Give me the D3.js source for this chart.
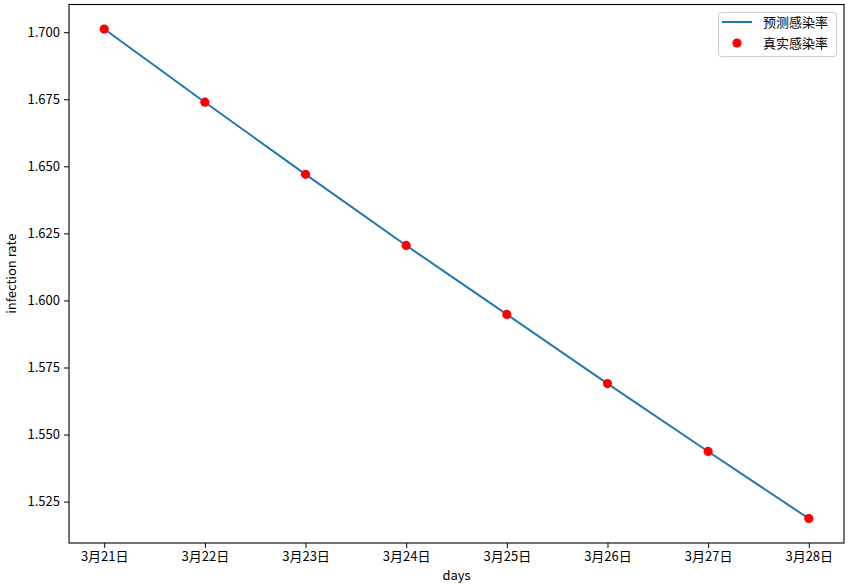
<!DOCTYPE html>
<html><head><meta charset="utf-8">
<script src="https://cdn.jsdelivr.net/npm/d3@7"></script>
<style>body{margin:0;background:#fff;} svg{display:block;font-family:"Noto Sans CJK SC","DejaVu Sans",sans-serif;}</style>
</head><body>
<svg id="c" width="848" height="584"></svg>
<script>
const categories = ["3月21日","3月22日","3月23日","3月24日","3月25日","3月26日","3月27日","3月28日"];
const predicted = [1.7012,1.6739,1.6470,1.6205,1.5948,1.5690,1.5437,1.5187];
const actual = [1.7012,1.6739,1.6470,1.6205,1.5948,1.5690,1.5437,1.5187];
const yTicks = [1.525,1.550,1.575,1.600,1.625,1.650,1.675,1.700];
const legendLabels = ["预测感染率","真实感染率"];

const svg = d3.select("#c");
const L=69, R=844, T=4.5, B=543;
const x = d3.scaleLinear().domain([-0.35, 7.35]).range([L,R]);
const ymin=d3.min(predicted.concat(actual)), ymax=d3.max(predicted.concat(actual));
const pad=(ymax-ymin)*0.05;
const y = d3.scaleLinear().domain([ymin-pad, ymax+pad]).range([B,T]);

const xa = svg.append("g").attr("transform",`translate(0,${B})`)
  .call(d3.axisBottom(x).tickValues(d3.range(categories.length)).tickFormat(i=>categories[i]).tickSize(5).tickPadding(4));
const ya = svg.append("g").attr("transform",`translate(${L},0)`)
  .call(d3.axisLeft(y).tickValues(yTicks).tickFormat(d3.format(".3f")).tickSize(5).tickPadding(4));
[xa,ya].forEach(a=>{a.select(".domain").remove();a.selectAll("text").attr("font-size",13).attr("fill","#000").attr("font-family","'Noto Sans CJK SC','DejaVu Sans',sans-serif");a.selectAll("line").attr("stroke","#000");});

svg.append("path").datum(predicted)
  .attr("d", d3.line().x((d,i)=>x(i)).y(d=>y(d)))
  .attr("fill","none").attr("stroke","#1f77b4").attr("stroke-width",2);
svg.selectAll("circle.pt").data(actual).join("circle").attr("class","pt")
  .attr("cx",(d,i)=>x(i)).attr("cy",d=>y(d)).attr("r",4.6).attr("fill","#ff0000");

svg.append("rect").attr("x",L).attr("y",T).attr("width",R-L).attr("height",B-T)
  .attr("fill","none").attr("stroke","#000").attr("stroke-width",1.1);

svg.append("text").attr("x",(L+R)/2).attr("y",580).attr("text-anchor","middle").attr("font-size",13).text("days");
svg.append("text").attr("transform",`translate(16,${(T+B)/2}) rotate(-90)`).attr("text-anchor","middle").attr("font-size",13).text("infection rate");

const lg = svg.append("g");
lg.append("rect").attr("x",718.5).attr("y",12.5).attr("width",118).attr("height",44).attr("rx",3)
  .attr("fill","#fff").attr("fill-opacity",0.8).attr("stroke","#ccc");
lg.append("line").attr("x1",722).attr("x2",752).attr("y1",22).attr("y2",22).attr("stroke","#1f77b4").attr("stroke-width",2);
lg.append("circle").attr("cx",737).attr("cy",43).attr("r",4.6).attr("fill","#ff0000");
legendLabels.forEach((t,i)=>lg.append("text").attr("x",763).attr("y",22+i*21).attr("dy","0.35em").attr("font-size",13).text(t));
</script>
</body></html>
